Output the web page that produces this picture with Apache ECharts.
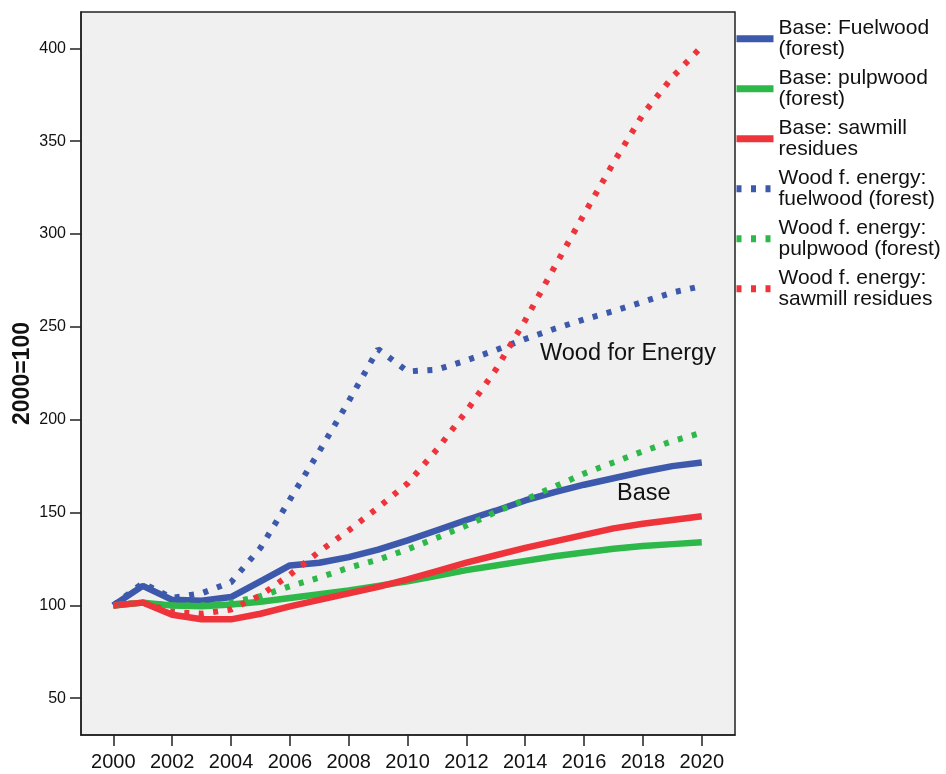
<!DOCTYPE html>
<html>
<head>
<meta charset="utf-8">
<script src="https://cdn.jsdelivr.net/npm/echarts@6/dist/echarts.min.js"></script>
<style>
html,body{margin:0;padding:0;background:#fff;}
#chart{width:946px;height:774px;}
</style>
</head>
<body>
<div id="chart"></div>
<script>
const years = [2000,2001,2002,2003,2004,2005,2006,2007,2008,2009,2010,2011,2012,2013,2014,2015,2016,2017,2018,2019,2020];
const xTicks = [2000,2002,2004,2006,2008,2010,2012,2014,2016,2018,2020];
const yTicks = [50,100,150,200,250,300,350,400];

const baseFuelwood = [100,110.5,103,102.5,104.5,113,121.5,123,126,130,135,140.5,146,151,156.5,161,165,168.5,172,175,177];
const basePulpwood = [100,101.5,100,99.5,100.5,102,104,106,108,110.5,113,116,119,121.5,124,126.5,128.5,130.5,132,133,134];
const baseSawmill = [100,101.5,95,92.5,92.5,95.5,99.5,103,106.5,110,114,118.5,123,127,131,134.5,138,141.5,144,146,148];
const wfeFuelwood = [100,112,104,106.5,112.5,131,157,183,210,238,226,227,232,237.5,243.5,249,254,258.5,263.5,268.5,272];
const wfePulpwood = [100,101.5,100,100,101.5,105,110.3,115,120.3,124.6,130.2,136.4,143,150.3,157,164,171,177,183,188.5,193];
const wfeSawmill = [100,101.5,96.5,95.5,97.8,105.4,116.5,129,140.4,152.7,165.7,184,204.6,227,253.6,282.4,310.7,338.4,364.5,384.5,401];

const names = [
  'Base: Fuelwood\n(forest)',
  'Base: pulpwood\n(forest)',
  'Base: sawmill\nresidues',
  'Wood f. energy:\nfuelwood (forest)',
  'Wood f. energy:\npulpwood (forest)',
  'Wood f. energy:\nsawmill residues'
];
const seriesValues = [baseFuelwood, basePulpwood, baseSawmill, wfeFuelwood, wfePulpwood, wfeSawmill];
const colors = ['#3D59AC', '#2EB84A', '#EF333A', '#3D59AC', '#2EB84A', '#EF333A'];
const dotted = [false, false, false, true, true, true];

const FONT = 'Liberation Sans, Arial, sans-serif';

const chart = echarts.init(document.getElementById('chart'), null, {renderer: 'canvas'});

const series = seriesValues.map((vals, i) => ({
  name: names[i],
  type: 'line',
  data: years.map((y, j) => [y, vals[j]]),
  symbol: 'none',
  showSymbol: false,
  silent: true,
  animation: false,
  lineStyle: {
    color: colors[i],
    width: dotted[i] ? 6 : 6.5,
    type: dotted[i] ? [5, 9.5] : 'solid',
    cap: 'butt'
  },
  itemStyle: {color: colors[i]},
  z: dotted[i] ? 3 : 2
}));

chart.setOption({
  animation: false,
  textStyle: {fontFamily: FONT},
  grid: {
    left: 81, right: 211, top: 12, bottom: 39,
    show: true,
    backgroundColor: '#F0F0F0',
    borderColor: '#222',
    borderWidth: 1.5
  },
  legend: {
    orient: 'vertical',
    left: 733,
    top: 18,
    padding: 0,
    itemGap: 8.5,
    itemWidth: 37,
    itemHeight: 20,
    selectedMode: false,
    itemStyle: {color: 'transparent', borderWidth: 0, opacity: 0},
    lineStyle: {width: 7},
    textStyle: {fontFamily: FONT, fontSize: 21, lineHeight: 20.5, color: '#111'},
    data: names.map((n) => ({name: n}))
  },
  xAxis: {
    type: 'value',
    min: 1998.9,
    max: 2021.13,
    splitLine: {show: false},
    axisLine: {show: true, lineStyle: {color: '#222', width: 1.5}},
    axisTick: {show: true, length: 11, customValues: xTicks, lineStyle: {color: '#222', width: 1.5}},
    axisLabel: {customValues: xTicks, margin: 17, fontSize: 20, color: '#111', fontFamily: FONT, formatter: (v) => String(v)}
  },
  yAxis: {
    type: 'value',
    min: 30.2,
    max: 419.6,
    name: '2000=100',
    nameLocation: 'middle',
    nameGap: 47,
    nameMoveOverlap: false,
    nameTextStyle: {fontSize: 23, fontWeight: 'bold', color: '#111', fontFamily: FONT},
    splitLine: {show: false},
    axisLine: {show: true, lineStyle: {color: '#222', width: 1.5}},
    axisTick: {show: true, length: 11, customValues: yTicks, lineStyle: {color: '#222', width: 1.5}},
    axisLabel: {customValues: yTicks, margin: 15, fontSize: 16, color: '#111', fontFamily: FONT, formatter: (v) => String(v)}
  },
  graphic: [
    {type: 'text', left: 540, top: 342, silent: true,
      style: {text: 'Wood for Energy', fontSize: 23.5, fontFamily: FONT, fill: '#111'}},
    {type: 'text', left: 617, top: 482, silent: true,
      style: {text: 'Base', fontSize: 23.5, fontFamily: FONT, fill: '#111'}}
  ],
  series: series
});
</script>
</body>
</html>
